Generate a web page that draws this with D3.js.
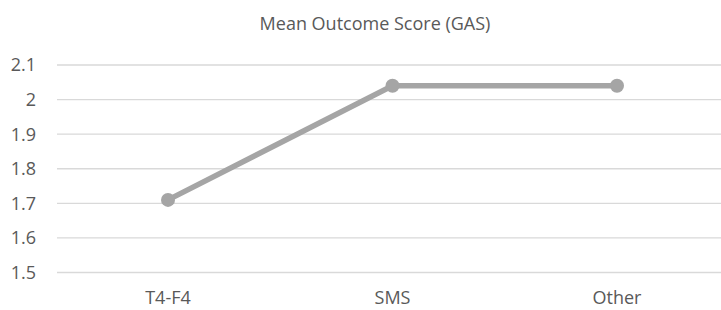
<!DOCTYPE html>
<html>
<head>
<meta charset="utf-8">
<script src="https://cdn.jsdelivr.net/npm/d3@7"></script>
<style>
  body { margin: 0; background: #fff; }
  text { font-family: "Open Sans", "Liberation Sans", sans-serif; fill: #595959; }
</style>
</head>
<body>
<div id="chart"></div>
<script>
// chart data
var categories = ["T4-F4", "SMS", "Other"];
var scores = [1.71, 2.04, 2.04];
var yTicks = [1.5, 1.6, 1.7, 1.8, 1.9, 2, 2.1];
var title = "Mean Outcome Score (GAS)";

// looks
var width = 721, height = 310;
var lineColor = "#A5A5A5";
var gridColor = "#D9D9D9";
var fontSize = 18;

const svg = d3.select("#chart").append("svg")
    .attr("width", width)
    .attr("height", height);

// plot area runs past the right edge (chart was cropped)
const x = d3.scalePoint()
    .domain(categories)
    .range([168, 617]);

const y = d3.scaleLinear()
    .domain([1.5, 2.1])
    .range([272.5, 65]);

// gridlines
svg.append("g")
  .selectAll("line")
  .data(yTicks)
  .join("line")
    .attr("x1", 57)
    .attr("x2", 729)
    .attr("y1", d => y(d))
    .attr("y2", d => y(d))
    .attr("stroke", gridColor)
    .attr("stroke-width", 1.4);

// y labels
svg.append("g")
  .selectAll("text")
  .data(yTicks)
  .join("text")
    .attr("x", 36)
    .attr("y", d => y(d))
    .attr("dy", "0.36em")
    .attr("text-anchor", "end")
    .attr("font-size", fontSize)
    .text(d => d);

// x labels
svg.append("g")
  .selectAll("text")
  .data(categories)
  .join("text")
    .attr("x", d => x(d))
    .attr("y", 304)
    .attr("text-anchor", "middle")
    .attr("font-size", fontSize)
    .text(d => d);

// title (centred on the uncropped chart)
svg.append("text")
    .attr("x", 375)
    .attr("y", 30)
    .attr("text-anchor", "middle")
    .attr("font-size", fontSize)
    .text(title);

const line = d3.line()
    .x((d, i) => x(categories[i]))
    .y(d => y(d));

svg.append("path")
    .datum(scores)
    .attr("fill", "none")
    .attr("stroke", lineColor)
    .attr("stroke-width", 5.5)
    .attr("d", line);

svg.append("g")
  .selectAll("circle")
  .data(scores)
  .join("circle")
    .attr("cx", (d, i) => x(categories[i]))
    .attr("cy", d => y(d))
    .attr("r", 7)
    .attr("fill", lineColor);
</script>
</body>
</html>
